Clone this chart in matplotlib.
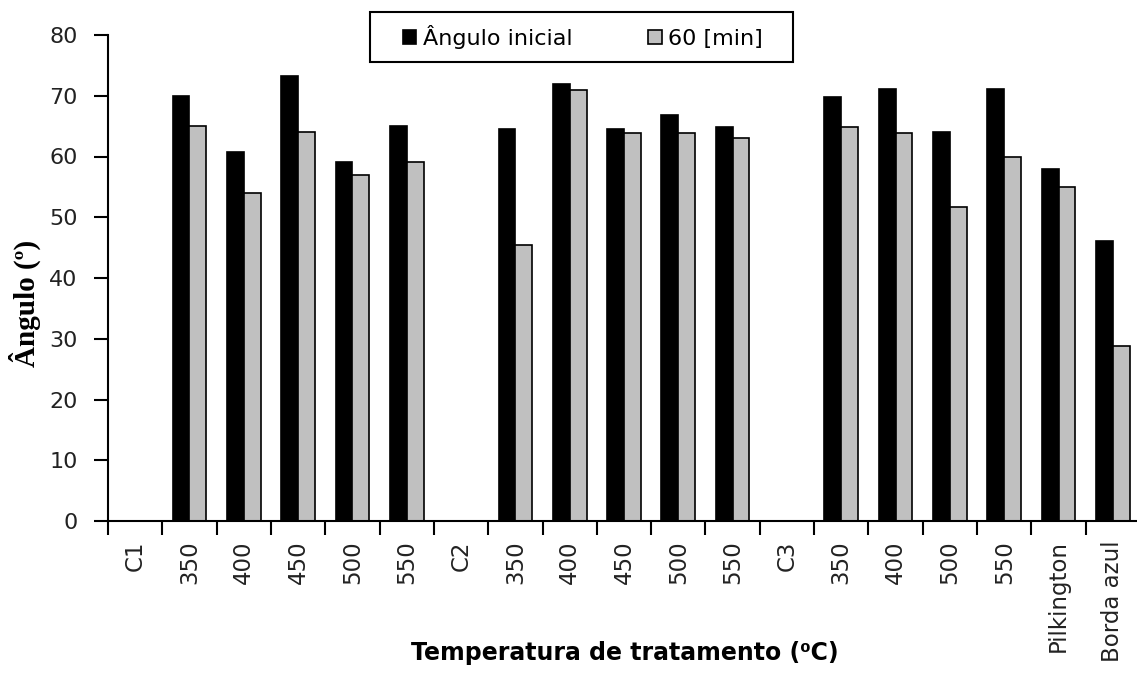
import numpy as np
import matplotlib
matplotlib.use("Agg")
import matplotlib.pyplot as plt
from matplotlib.patches import Rectangle

categories = ["C1", "350", "400", "450", "500", "550", "C2", "350", "400", "450",
              "500", "550", "C3", "350", "400", "500", "550", "Pilkington", "Borda azul"]
angulo_inicial = [np.nan, 70.0, 60.8, 73.3, 59.1, 65.0, np.nan, 64.6, 72.0, 64.6,
                  66.8, 64.9, np.nan, 69.8, 71.1, 64.0, 71.1, 57.9, 46.1]
min_60 = [np.nan, 65.0, 54.0, 64.0, 57.0, 59.1, np.nan, 45.5, 71.0, 63.9,
          63.9, 63.0, np.nan, 64.9, 63.9, 51.7, 60.0, 54.9, 28.8]
yticks = [0, 10, 20, 30, 40, 50, 60, 70, 80]

W, H = 1137, 678
fig = plt.figure(figsize=(W / 100, H / 100), dpi=100)
left, right, bottom, top = 108 / W, 1140 / W, (H - 521) / H, (H - 35) / H
ax = fig.add_axes([left, bottom, right - left, top - bottom])

x = np.arange(len(categories))
w = 0.31
b1 = ax.bar(x - w / 2, angulo_inicial, width=w, color="black", edgecolor="black",
            linewidth=1.2, label="Ângulo inicial")
b2 = ax.bar(x + w / 2, min_60, width=w, color="#c0c0c0", edgecolor="black",
            linewidth=1.2, label="60 [min]")

ax.set_xlim(-0.5, len(categories) - 0.5)
ax.set_ylim(0, 80)
ax.set_yticks(yticks)
ax.set_yticklabels([str(v) for v in yticks], fontsize=16, family="DejaVu Sans", color="#222222")
ax.set_xticks(x)
ax.set_xticklabels(categories, rotation=90, fontsize=16.5, family="DejaVu Sans",
                   color="#222222", va="top")
ax.set_xticks(np.arange(-0.5, len(categories), 1.0), minor=True)
ax.tick_params(axis="x", which="major", length=0, pad=14)
ax.tick_params(axis="x", which="minor", length=10, width=1.5, direction="out")
ax.tick_params(axis="y", length=10, width=1.5, direction="out", pad=12)

for s in ["top", "right"]:
    ax.spines[s].set_visible(False)
for s in ["left", "bottom"]:
    ax.spines[s].set_linewidth(1.5)
    ax.spines[s].set_color("black")

fig.text(25 / W, 1 - 303 / H, "Ângulo (º)", rotation=90, ha="center", va="center",
         fontsize=21, fontweight="bold", family="Liberation Serif")
fig.text(625 / W, 1 - 653 / H, "Temperatura de tratamento (⁰C)", ha="center", va="center",
         fontsize=17, fontweight="bold", family="DejaVu Sans")

# legend frame drawn as a figure rectangle
fig.patches.append(Rectangle((370 / W, 1 - 62 / H), (793 - 370) / W, 50 / H,
                             transform=fig.transFigure, fill=False, edgecolor="black",
                             linewidth=1.5, zorder=5))
leg = fig.legend(handles=[b1, b2], loc="center", bbox_to_anchor=(583 / W, 1 - 37 / H),
                 ncol=2, frameon=False, borderpad=0.3,
                 handlelength=0.6, handleheight=0.6, handletextpad=0.3, columnspacing=3.4,
                 prop={"family": "DejaVu Sans", "size": 16})

fig.savefig("out.png", dpi=100)
